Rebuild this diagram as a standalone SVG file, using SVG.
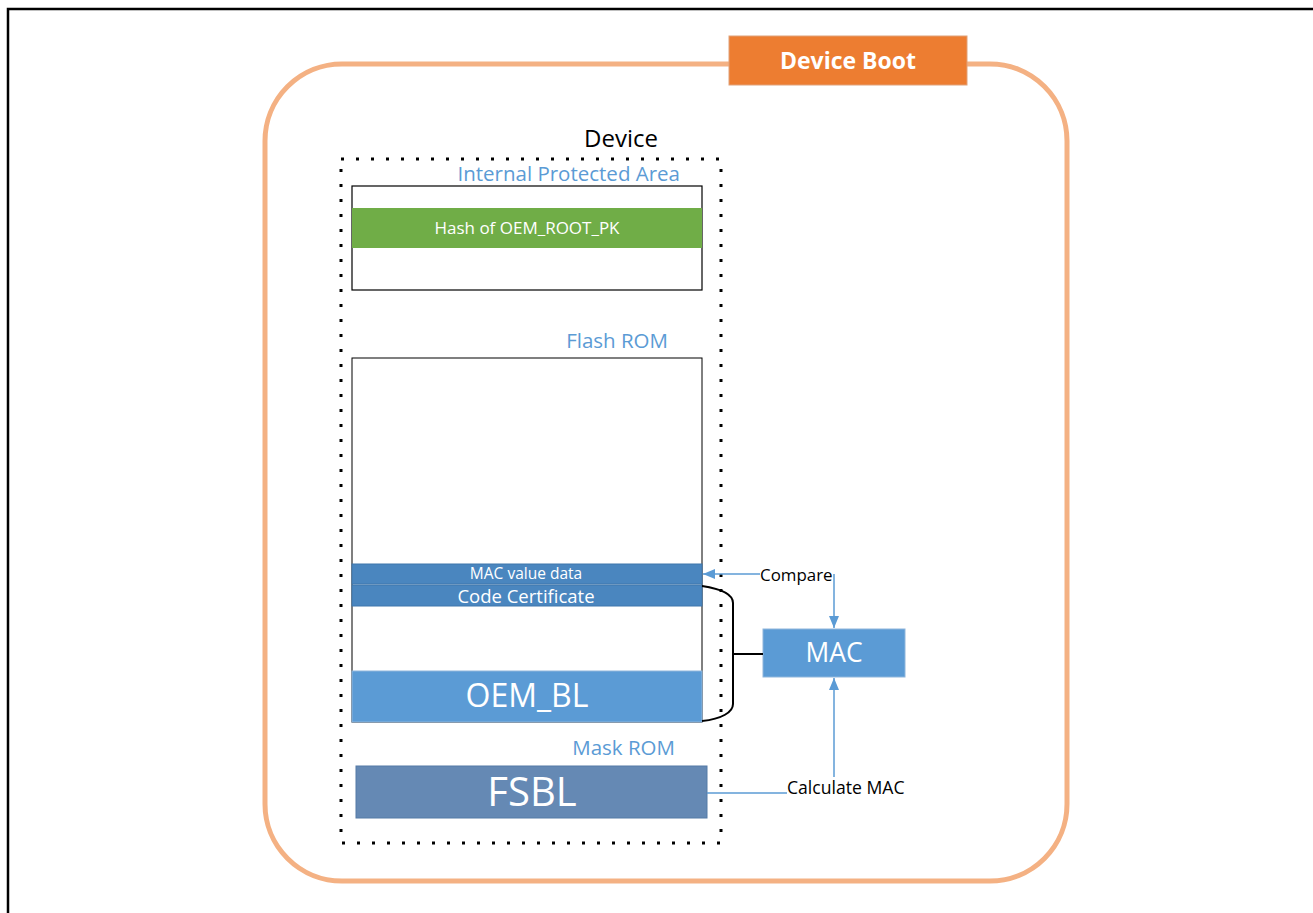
<svg xmlns="http://www.w3.org/2000/svg" width="1313" height="913" viewBox="0 0 1313 913">
<style>
.lbl{font-family:"Open Sans","Liberation Sans",sans-serif;}
.blue{fill:#5B9BD5;font-size:20.5px;}
.w{fill:#fff;}
.conn{stroke:#5B9BD5;stroke-width:1.5;fill:none;}
</style>
<defs>
<marker id="arr" viewBox="0 0 12 10" refX="12" refY="5" markerWidth="12" markerHeight="10" markerUnits="userSpaceOnUse" orient="auto">
<path d="M0,0 L12,5 L0,10 Z" fill="#5B9BD5"/>
</marker>
</defs>
<rect x="0" y="0" width="1313" height="913" fill="#fff"/>
<rect x="8" y="9" width="1320" height="920" fill="none" stroke="#000" stroke-width="2.5"/>
<g id="device-boot-frame">
<rect x="265" y="64" width="802" height="817" rx="77" ry="77" fill="none" stroke="#F4B183" stroke-width="5"/>
</g>
<g id="device-boot-title">
<rect x="729" y="36" width="238" height="49" fill="#ED7D31" stroke="#E0A27A" stroke-width="1"/>
<text class="lbl w" x="848" y="69" font-size="23" font-weight="bold" text-anchor="middle">Device Boot</text>
</g>
<g id="device">
<rect x="341" y="159" width="380" height="684" fill="none" stroke="#000" stroke-width="3" stroke-dasharray="3 12"/>
<text class="lbl" x="621" y="147" font-size="24" fill="#000" text-anchor="middle">Device</text>
</g>
<g id="internal-protected-area">
<text class="lbl blue" x="680" y="181" text-anchor="end">Internal Protected Area</text>
<rect x="352" y="186" width="350" height="104" fill="#fff" stroke="#000" stroke-width="1.2"/>
<rect x="352" y="208" width="350" height="40" fill="#70AD47"/>
<text class="lbl w" x="527" y="234" font-size="17" text-anchor="middle">Hash of OEM_ROOT_PK</text>
</g>
<g id="flash-rom">
<text class="lbl blue" x="668" y="348" text-anchor="end">Flash ROM</text>
<rect x="352" y="358" width="350" height="364" fill="#fff" stroke="#000" stroke-width="1"/>
</g>
<g id="mac-value-data">
<rect x="352" y="564" width="350" height="20" fill="#4A86BF" stroke="#3F77AC" stroke-width="1"/>
<text class="lbl w" x="526" y="579" font-size="15.5" text-anchor="middle">MAC value data</text>
</g>
<g id="code-certificate">
<rect x="352" y="585" width="350" height="21" fill="#4A86BF" stroke="#3F77AC" stroke-width="1"/>
<text class="lbl w" x="526" y="603" font-size="18.5" text-anchor="middle">Code Certificate</text>
</g>
<g id="oem-bl">
<rect x="352" y="671" width="350" height="51" fill="#5B9BD5" stroke="#8FB6DC" stroke-width="1"/>
<text class="lbl w" x="527" y="707" font-size="32" text-anchor="middle">OEM_BL</text>
</g>
<g id="mask-rom">
<text class="lbl blue" x="675" y="755" text-anchor="end">Mask ROM</text>
</g>
<g id="fsbl">
<rect x="356" y="766" width="351" height="52" fill="#6589B4" stroke="#547AA6" stroke-width="1"/>
<text class="lbl w" x="532" y="806" font-size="40" text-anchor="middle">FSBL</text>
</g>
<g id="mac">
<rect x="763" y="629" width="142" height="48" fill="#5B9BD5" stroke="#8FB6DC" stroke-width="1"/>
<text class="lbl w" x="834" y="662" font-size="26.4" text-anchor="middle">MAC</text>
</g>
<g id="connectors">
<path d="M702,586 C722,589 733,595 733,603 L733,704 C733,712 722,719 702,721" fill="none" stroke="#000" stroke-width="2"/>
<line x1="733" y1="654" x2="763" y2="654" stroke="#000" stroke-width="2"/>
<line class="conn" x1="760" y1="574" x2="703" y2="574" marker-end="url(#arr)"/>
<path class="conn" d="M834,574 L834,628" marker-end="url(#arr)"/>
<line class="conn" x1="707" y1="793" x2="787" y2="793"/>
<path class="conn" d="M834,777 L834,678" marker-end="url(#arr)"/>
<text class="lbl" x="760" y="581" font-size="16.9" fill="#000">Compare</text>
<text class="lbl" x="787" y="794" font-size="17.6" fill="#000">Calculate MAC</text>
</g>
</svg>
